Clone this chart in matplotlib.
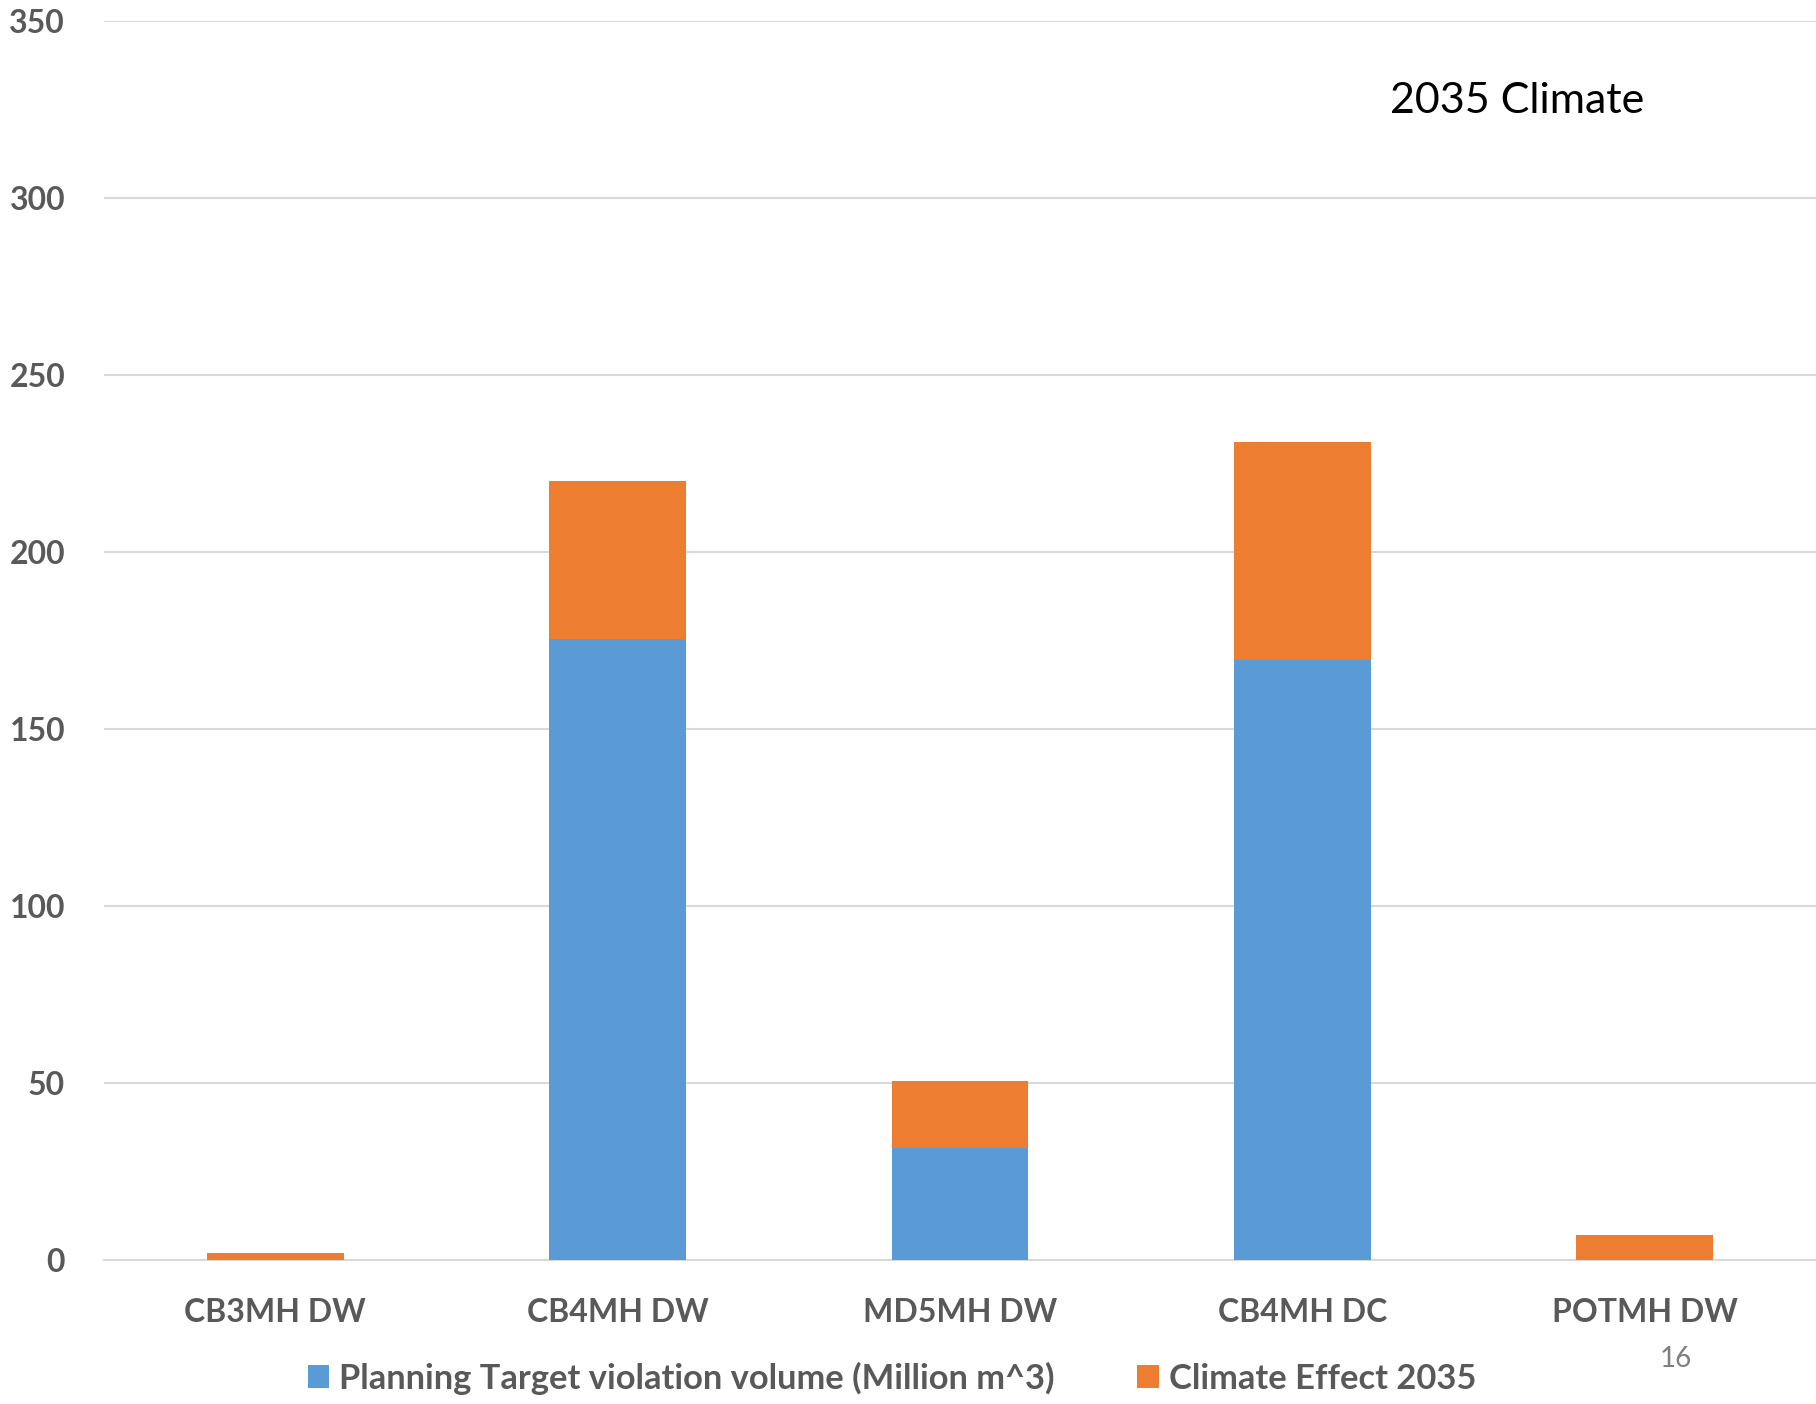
import numpy as np
import matplotlib.pyplot as plt

# violation volumes per station
categories = ["CB3MH DW", "CB4MH DW", "MD5MH DW", "CB4MH DC", "POTMH DW"]
planning_target = [0, 175.5, 31.5, 169.5, 0]
climate_effect = [2, 44.5, 19, 61.5, 7]

blue = "#5B9BD5"
orange = "#ED7D31"
grey = "#595959"

plt.rcParams['font.family'] = ['Lato', 'DejaVu Sans']

fig = plt.figure(figsize=(18.16, 14.04), dpi=100)
ax = fig.add_axes([104 / 1816, 144 / 1404, 1 - 104 / 1816, (1260 - 20.7) / 1404])

x = np.arange(len(categories))
ax.bar(x, planning_target, width=0.4, color=blue, zorder=3,
       label="Planning Target violation volume (Million m^3)")
ax.bar(x, climate_effect, width=0.4, bottom=planning_target, color=orange, zorder=3,
       label="Climate Effect 2035")

ax.set_xlim(-0.5, len(categories) - 0.5)
ax.set_ylim(0, 350)
ax.set_yticks(np.arange(0, 351, 50))
ax.yaxis.grid(True, color="#D9D9D9", linewidth=1.5, zorder=0)
ax.set_axisbelow(True)
for side in ["top", "right", "left"]:
    ax.spines[side].set_visible(False)
ax.spines["bottom"].set_color("#D9D9D9")
ax.spines["bottom"].set_linewidth(1.5)

ax.set_xticks(x)
ax.set_xticklabels(categories)
ax.tick_params(axis="x", length=0, pad=27, labelsize=23, labelcolor=grey)
ax.tick_params(axis="y", length=0, pad=28, labelsize=23, labelcolor=grey)
for lbl in ax.get_xticklabels() + ax.get_yticklabels():
    lbl.set_fontweight("bold")

leg = fig.legend(loc="center", bbox_to_anchor=(892 / 1816, 1 - 1378 / 1404), ncol=2,
                 frameon=False, fontsize=24.8, handlelength=0.62, handleheight=0.62,
                 handletextpad=0.3, columnspacing=2.4)
for t in leg.get_texts():
    t.set_color(grey)
    t.set_fontweight("bold")

fig.text(1390 / 1816, 1 - 101 / 1404, "2035 Climate", fontsize=31, color="black",
         va="center", ha="left")
fig.text(1676 / 1816, 1 - 1359 / 1404, "16", fontsize=20, color="#7F7F7F",
         va="center", ha="center")

fig.savefig("out.png", dpi=100)
